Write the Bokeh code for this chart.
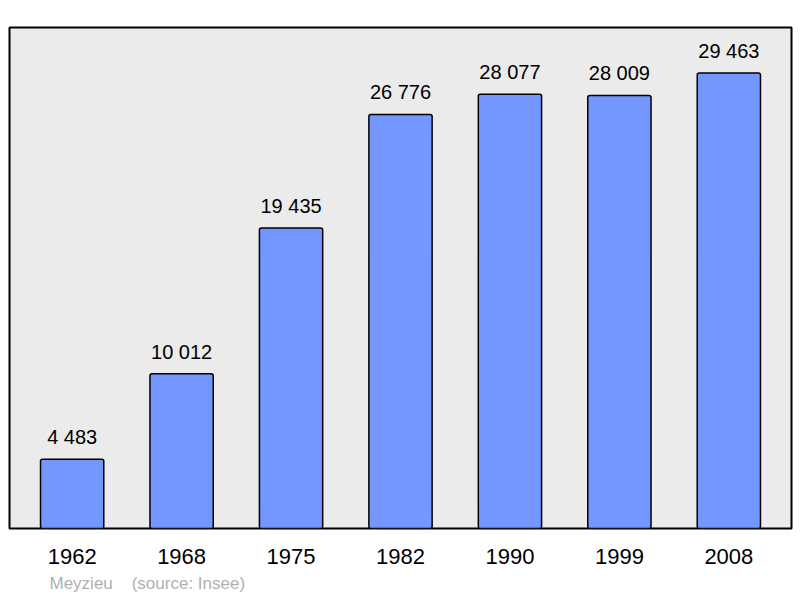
from bokeh.plotting import figure
from bokeh.models import FactorRange, Range1d, ColumnDataSource, Title
from bokeh.core.properties import value
from bokeh.embed import file_html
from bokeh.resources import INLINE

years = ["1962", "1968", "1975", "1982", "1990", "1999", "2008"]
population = [4483, 10012, 19435, 26776, 28077, 28009, 29463]
labels = ["4 483", "10 012", "19 435", "26 776", "28 077", "28 009", "29 463"]
source_text = "Meyzieu\u00a0\u00a0\u00a0\u00a0(source: Insee)"

src = ColumnDataSource(dict(year=years, pop=population, label=labels))

FONT = "Liberation Sans"

p = figure(
    width=800, height=598,
    x_range=FactorRange(factors=years, range_padding=0.0207),
    y_range=Range1d(0, 32400),
    output_backend="svg", toolbar_location=None,
    min_border_left=9, min_border_right=9, min_border_top=27, min_border_bottom=70,
)
p.background_fill_color = "#ebebeb"
p.border_fill_color = "white"
p.outline_line_color = "black"
p.outline_line_width = 2
p.xgrid.visible = False
p.ygrid.visible = False
p.yaxis.visible = False

p.vbar(x="year", top="pop", width=0.578, source=src,
       fill_color="#7396ff", line_color="black", line_width=1.5, border_radius=2)
p.text(x="year", y="pop", text="label", source=src,
       text_font=value(FONT), text_font_size="20px", text_color="black",
       text_align="center", text_baseline="alphabetic", y_offset=-22)

ax = p.xaxis[0]
ax.axis_line_color = None
ax.major_tick_line_color = None
ax.minor_tick_line_color = None
ax.major_tick_out = 0
ax.major_tick_in = 0
ax.major_label_standoff = 20
ax.major_label_text_font = FONT
ax.major_label_text_font_size = "22px"
ax.major_label_text_color = "black"

t = Title(text=source_text, align="left", offset=40,
          text_font=FONT, text_font_size="17px", text_color="#b0b0b0",
          text_font_style="normal", standoff=10)
p.add_layout(t, "below")

open("out.html", "w").write(file_html(p, INLINE))
